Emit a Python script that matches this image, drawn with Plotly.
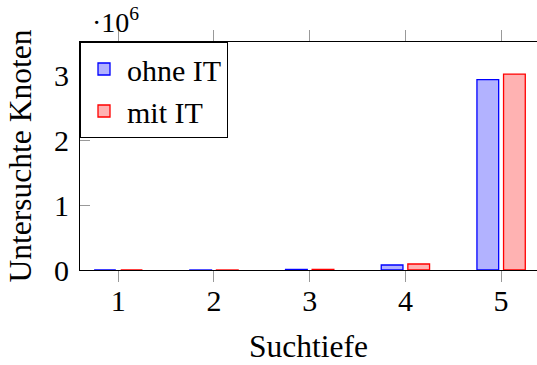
import plotly.graph_objects as go

depths = [1, 2, 3, 4, 5]
ohne_it = [20, 420, 9000, 77000, 2930000]
mit_it = [21, 440, 9500, 92000, 3015000]
y_ticks = [0, 1e6, 2e6, 3e6]
y_ticklabels = ["0", "1", "2", "3"]

FONT = "Liberation Serif"
BW = 0.227
OFF = 0.139
TF = dict(family=FONT, size=30, color="black")
TT = dict(family=FONT, size=31.5, color="black")

fig = go.Figure()
fig.add_trace(go.Bar(x=depths, y=ohne_it, name="ohne IT", width=BW, offset=-OFF - BW / 2,
                     marker=dict(color="rgba(0,0,255,0.3)", line=dict(color="blue", width=1.3))))
fig.add_trace(go.Bar(x=depths, y=mit_it, name="mit IT", width=BW, offset=OFF - BW / 2,
                     marker=dict(color="rgba(255,0,0,0.3)", line=dict(color="red", width=1.3))))

yr = [0, 3.508e6]
fig.update_layout(
    width=537, height=365,
    margin=dict(l=80, r=0, t=42, b=95),
    plot_bgcolor="white", paper_bgcolor="white",
    barmode="overlay",
    font=TF,
    showlegend=True,
    legend=dict(x=0, y=1, xanchor="left", yanchor="top", bordercolor="black", borderwidth=1,
                bgcolor="white", font=TF, tracegroupgap=0, itemwidth=36),
    xaxis=dict(range=[0.6, 5.375], tickvals=depths, ticktext=[str(d) for d in depths],
               tickfont=TF, ticks="outside", ticklen=11, tickcolor="#999", showline=True,
               linecolor="black", mirror="ticks", showgrid=False, zeroline=False,
               ticklabelstandoff=-7,
               title=dict(text="Suchtiefe", standoff=18, font=TT)),
    yaxis=dict(range=yr, tickvals=y_ticks, ticktext=y_ticklabels, tickfont=TF,
               ticks="inside", ticklen=10, tickcolor="#999", showline=True, linecolor="black",
               mirror=False, showgrid=False, zeroline=False, ticklabelstandoff=4,
               title=dict(text="Untersuchte Knoten", standoff=12, font=TT)),
    yaxis2=dict(range=yr, tickvals=y_ticks, overlaying="y", side="right", ticks="inside",
                ticklen=9, tickcolor="#999", showline=False, showticklabels=False,
                showgrid=False, zeroline=False),
)
fig.add_annotation(xref="paper", yref="paper", x=0, y=1, xshift=10, yshift=2,
                   xanchor="left", yanchor="bottom", showarrow=False,
                   text="·10<sup>6</sup>", font=dict(size=28, family=FONT, color="black"))
fig.write_html("out.html")
